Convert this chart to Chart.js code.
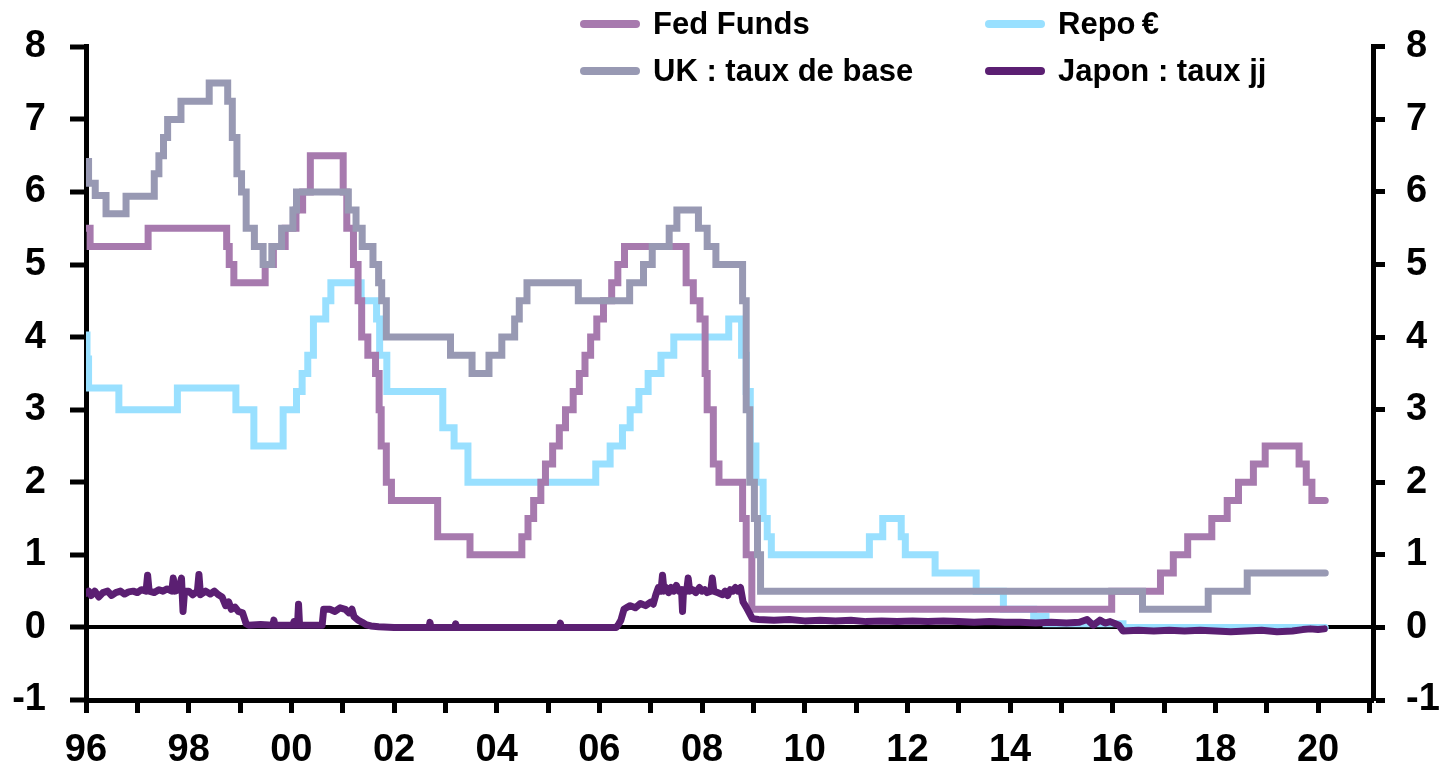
<!DOCTYPE html>
<html>
<head>
<meta charset="utf-8">
<script src="https://cdn.jsdelivr.net/npm/chart.js@4.4.0/dist/chart.umd.min.js"></script>
<style>
  body { margin: 0; background: #fff; }
  #wrap { position: relative; width: 1443px; height: 770px; }
  .legend-item { position: absolute; display: flex; align-items: center; font: bold 31px "Liberation Sans", Arial, sans-serif; color: #000; white-space: nowrap; }
  .legend-line { width: 60px; height: 8px; border-radius: 4px; margin-right: 13px; }
</style>
</head>
<body>
<div id="wrap">
  <canvas id="chart" width="1443" height="770"></canvas>
  <div id="legend"></div>
</div>
<script>
// Fed Funds target: date of change (decimal year) and new rate
const fedDates = [1996.0, 1996.08, 1997.21, 1998.74, 1998.79, 1998.88, 1999.49, 1999.65, 1999.88, 2000.09,
  2000.22, 2000.37, 2001.01, 2001.08, 2001.21, 2001.30, 2001.37, 2001.49, 2001.64, 2001.71,
  2001.75, 2001.85, 2001.95, 2002.85, 2003.48, 2004.49, 2004.61, 2004.72, 2004.86, 2004.95,
  2005.09, 2005.22, 2005.34, 2005.49, 2005.61, 2005.72, 2005.83, 2005.95, 2006.08, 2006.24,
  2006.36, 2006.49, 2007.69, 2007.83, 2007.96, 2008.06, 2008.10, 2008.22, 2008.33, 2008.79,
  2008.86, 2008.97, 2015.98, 2016.93, 2017.18, 2017.46, 2017.93, 2018.23, 2018.45, 2018.74,
  2018.97, 2019.63, 2019.77, 2019.88, 2020.14];
const fedRates = [5.5, 5.25, 5.5, 5.25, 5.0, 4.75, 5.0, 5.25, 5.5, 5.75,
  6.0, 6.5, 6.0, 5.5, 5.0, 4.5, 4.0, 3.75, 3.5, 3.0,
  2.5, 2.0, 1.75, 1.25, 1.0, 1.25, 1.5, 1.75, 2.0, 2.25,
  2.5, 2.75, 3.0, 3.25, 3.5, 3.75, 4.0, 4.25, 4.5, 4.75,
  5.0, 5.25, 4.75, 4.5, 4.25, 3.5, 3.0, 2.25, 2.0, 1.5,
  1.0, 0.25, 0.5, 0.75, 1.0, 1.25, 1.5, 1.75, 2.0, 2.25,
  2.5, 2.25, 2.0, 1.75, 1.75];

// Repo € (Bundesbank repo before 1999, then ECB refi rate)
const repoDates = [1996.0, 1996.02, 1996.05, 1996.64, 1997.78, 1998.92, 1999.27, 1999.84, 2000.10, 2000.21,
  2000.32, 2000.43, 2000.67, 2000.77, 2001.36, 2001.66, 2001.72, 2001.86, 2002.95, 2003.17,
  2003.44, 2005.93, 2006.21, 2006.45, 2006.60, 2006.77, 2006.95, 2007.20, 2007.45, 2008.52,
  2008.77, 2008.86, 2008.94, 2009.05, 2009.19, 2009.27, 2009.35, 2011.26, 2011.52, 2011.88,
  2011.96, 2012.54, 2013.34, 2013.87, 2014.46, 2014.70, 2016.20, 2020.14];
const repoRates = [4.03, 3.7, 3.3, 3.0, 3.3, 3.0, 2.5, 3.0, 3.25, 3.5,
  3.75, 4.25, 4.5, 4.75, 4.5, 4.25, 3.75, 3.25, 2.75, 2.5,
  2.0, 2.25, 2.5, 2.75, 3.0, 3.25, 3.5, 3.75, 4.0, 4.25,
  3.75, 3.25, 2.5, 2.0, 1.5, 1.25, 1.0, 1.25, 1.5, 1.25,
  1.0, 0.75, 0.5, 0.25, 0.15, 0.05, 0.0, 0.0];

// UK : taux de base
const ukDates = [1996.0, 1996.05, 1996.18, 1996.39, 1996.78, 1997.33, 1997.42, 1997.51, 1997.59, 1997.85,
  1998.40, 1998.76, 1998.85, 1998.94, 1999.03, 1999.12, 1999.28, 1999.45, 1999.62, 1999.81,
  2000.03, 2000.10, 2001.11, 2001.26, 2001.38, 2001.59, 2001.70, 2001.76, 2001.85, 2003.10,
  2003.52, 2003.85, 2004.10, 2004.35, 2004.44, 2004.59, 2005.59, 2006.59, 2006.86, 2007.03,
  2007.36, 2007.51, 2007.93, 2008.10, 2008.27, 2008.79, 2008.86, 2008.93, 2009.02, 2009.08,
  2009.14, 2016.58, 2017.86, 2018.62, 2020.14];
const ukRates = [6.42, 6.12, 5.95, 5.7, 5.94, 6.25, 6.5, 6.75, 7.0, 7.25,
  7.5, 7.25, 6.75, 6.25, 6.0, 5.5, 5.25, 5.0, 5.25, 5.5,
  5.75, 6.0, 5.75, 5.5, 5.25, 5.0, 4.75, 4.5, 4.0, 3.75,
  3.5, 3.75, 4.0, 4.25, 4.5, 4.75, 4.5, 4.75, 5.0, 5.25,
  5.5, 5.75, 5.5, 5.25, 5.0, 4.5, 3.0, 2.0, 1.5, 1.0,
  0.5, 0.25, 0.5, 0.75, 0.75];

// Japon : taux jj (overnight call rate, noisy)
const japanDates = [1996.0, 1996.05, 1996.1, 1996.17, 1996.25, 1996.33, 1996.42, 1996.5, 1996.58, 1996.67,
  1996.75, 1996.83, 1996.92, 1997.0, 1997.08, 1997.17, 1997.2, 1997.23, 1997.33, 1997.42,
  1997.5, 1997.58, 1997.67, 1997.7, 1997.73, 1997.8, 1997.86, 1997.89, 1997.92, 1998.0,
  1998.08, 1998.17, 1998.2, 1998.23, 1998.33, 1998.42, 1998.5, 1998.58, 1998.65, 1998.72,
  1998.78, 1998.83, 1998.9, 1998.97, 1999.05, 1999.12, 1999.17, 1999.4, 1999.64, 1999.66,
  1999.68, 2000.03, 2000.05, 2000.07, 2000.12, 2000.14, 2000.16, 2000.6, 2000.63, 2000.75,
  2000.85, 2000.95, 2001.05, 2001.12, 2001.18, 2001.22, 2001.3, 2001.38, 2001.45, 2001.55,
  2001.7, 2002.0, 2002.68, 2002.7, 2002.72, 2003.18, 2003.2, 2003.22, 2005.22, 2005.24,
  2005.26, 2006.33, 2006.38, 2006.42, 2006.48, 2006.55, 2006.6, 2006.7, 2006.8, 2006.9,
  2007.0, 2007.05, 2007.1, 2007.15, 2007.2, 2007.23, 2007.26, 2007.3, 2007.35, 2007.4,
  2007.45, 2007.5, 2007.55, 2007.6, 2007.62, 2007.64, 2007.7, 2007.73, 2007.76, 2007.82,
  2007.88, 2007.95, 2008.0, 2008.05, 2008.1, 2008.17, 2008.2, 2008.23, 2008.3, 2008.4,
  2008.45, 2008.5, 2008.55, 2008.6, 2008.65, 2008.7, 2008.75, 2008.8, 2008.86, 2008.92,
  2008.98, 2009.1, 2009.4, 2009.7, 2010.0, 2010.3, 2010.6, 2010.9, 2011.2, 2011.5,
  2011.8, 2012.1, 2012.4, 2012.7, 2013.0, 2013.3, 2013.6, 2013.9, 2014.2, 2014.5,
  2014.8, 2015.1, 2015.35, 2015.5, 2015.62, 2015.75, 2015.85, 2015.95, 2016.05, 2016.12,
  2016.2, 2016.5, 2016.8, 2017.1, 2017.4, 2017.7, 2018.0, 2018.3, 2018.6, 2018.9,
  2019.2, 2019.5, 2019.7, 2019.85, 2020.0, 2020.12];
const japanRates = [0.47, 0.5, 0.44, 0.5, 0.42, 0.48, 0.5, 0.44, 0.48, 0.5,
  0.46, 0.49, 0.5, 0.48, 0.52, 0.5, 0.72, 0.5, 0.48, 0.52,
  0.5, 0.53, 0.5, 0.68, 0.5, 0.52, 0.68, 0.22, 0.5, 0.5,
  0.45, 0.5, 0.73, 0.45, 0.5, 0.46, 0.5, 0.45, 0.42, 0.3,
  0.35, 0.25, 0.28, 0.22, 0.2, 0.05, 0.03, 0.04, 0.03, 0.1,
  0.03, 0.03, 0.08, 0.03, 0.03, 0.32, 0.03, 0.03, 0.25, 0.25,
  0.22, 0.27, 0.25, 0.2, 0.25, 0.15, 0.1, 0.07, 0.04, 0.02,
  0.01, 0.0, 0.0, 0.07, 0.0, 0.0, 0.05, 0.0, 0.0, 0.06,
  0.0, 0.0, 0.05, 0.1, 0.25, 0.28, 0.3, 0.27, 0.33, 0.3,
  0.35, 0.32, 0.45, 0.55, 0.5, 0.72, 0.5, 0.55, 0.48, 0.55,
  0.5, 0.58, 0.5, 0.52, 0.22, 0.52, 0.5, 0.68, 0.5, 0.52,
  0.48, 0.55, 0.5, 0.52, 0.48, 0.5, 0.68, 0.5, 0.48, 0.45,
  0.5, 0.44, 0.52, 0.5, 0.55, 0.5, 0.55, 0.35, 0.28, 0.2,
  0.12, 0.11, 0.1, 0.11, 0.09, 0.1, 0.09, 0.1, 0.08, 0.09,
  0.08, 0.09, 0.08, 0.09, 0.08, 0.07, 0.08, 0.07, 0.07, 0.06,
  0.07, 0.06, 0.07, 0.11, 0.03, 0.1, 0.06, 0.08, 0.05, 0.03,
  -0.05, -0.04, -0.05, -0.04, -0.05, -0.04, -0.05, -0.06, -0.05, -0.04,
  -0.06, -0.05, -0.03, -0.02, -0.03, -0.02];

const xMin = 1996;
const xMax = 2021.07;

function points(dates, rates) {
  return dates.map((d, i) => ({ x: d, y: rates[i] }));
}

const series = [
  { label: 'Fed Funds', data: points(fedDates, fedRates), color: '#A77AAE', stepped: true, order: 3, col: 0, row: 0 },
  { label: 'Repo\u202F€', data: points(repoDates, repoRates), color: '#99E0FF', stepped: true, order: 4, col: 1, row: 0 },
  { label: 'UK : taux de base', data: points(ukDates, ukRates), color: '#9899B3', stepped: true, order: 2, col: 0, row: 1 },
  { label: 'Japon : taux jj', data: points(japanDates, japanRates), color: '#5B1F72', stepped: false, order: 1, col: 1, row: 1 }
];

// HTML legend, 2 columns x 2 rows
const legend = document.getElementById('legend');
const legendCols = [580, 985];
const legendRows = [24, 71];
series.forEach(s => {
  const item = document.createElement('div');
  item.className = 'legend-item';
  item.style.left = legendCols[s.col] + 'px';
  item.style.top = (legendRows[s.row] - 20) + 'px';
  item.style.height = '40px';
  item.innerHTML = `<span class="legend-line" style="background:${s.color}"></span>${s.label}`;
  legend.appendChild(item);
});

const tickFont = { family: '"Liberation Sans", Arial, sans-serif', size: 38, weight: 'bold' };

new Chart(document.getElementById('chart').getContext('2d'), {
  type: 'line',
  data: {
    datasets: series.map(s => ({
      label: s.label,
      data: s.data,
      borderColor: s.color,
      backgroundColor: s.color,
      borderWidth: 7,
      pointRadius: 0,
      stepped: s.stepped,
      tension: 0,
      order: s.order,
      borderJoinStyle: s.stepped ? 'miter' : 'round',
      borderCapStyle: 'round',
      fill: false
    }))
  },
  options: {
    responsive: false,
    devicePixelRatio: 1,
    animation: false,
    layout: { padding: { top: 42, left: 0, right: 0, bottom: 0 } },
    plugins: { legend: { display: false }, tooltip: { enabled: false } },
    scales: {
      x: {
        type: 'linear',
        position: 'bottom',
        min: xMin,
        max: xMax,
        afterFit: scale => { scale.height = 70; },
        border: { display: true, color: '#000', width: 5 },
        grid: { drawOnChartArea: false, drawTicks: true, tickLength: 13, tickColor: '#000', tickWidth: 5 },
        ticks: {
          stepSize: 1,
          autoSkip: false,
          includeBounds: false,
          maxRotation: 0,
          padding: 15,
          color: '#000',
          font: tickFont,
          callback: v => (v % 2 === 0 ? String(v).slice(2) : '')
        }
      },
      y: {
        position: 'left',
        min: -1,
        max: 8,
        afterFit: scale => { scale.width = 86; },
        border: { display: true, color: '#000', width: 5 },
        grid: {
          color: c => (c.tick && c.tick.value === 0 ? '#000' : 'rgba(0,0,0,0)'),
          lineWidth: 4,
          tickLength: 16,
          tickColor: '#000',
          tickWidth: 5
        },
        ticks: { stepSize: 1, padding: 24, color: '#000', font: tickFont }
      },
      y2: {
        position: 'right',
        min: -1,
        max: 8,
        afterFit: scale => { scale.width = 70; },
        border: { display: true, color: '#000', width: 5 },
        grid: { drawOnChartArea: false, tickLength: 12, tickColor: '#000', tickWidth: 5 },
        ticks: { stepSize: 1, padding: 21, color: '#000', font: tickFont }
      }
    }
  }
});
</script>
</body>
</html>
